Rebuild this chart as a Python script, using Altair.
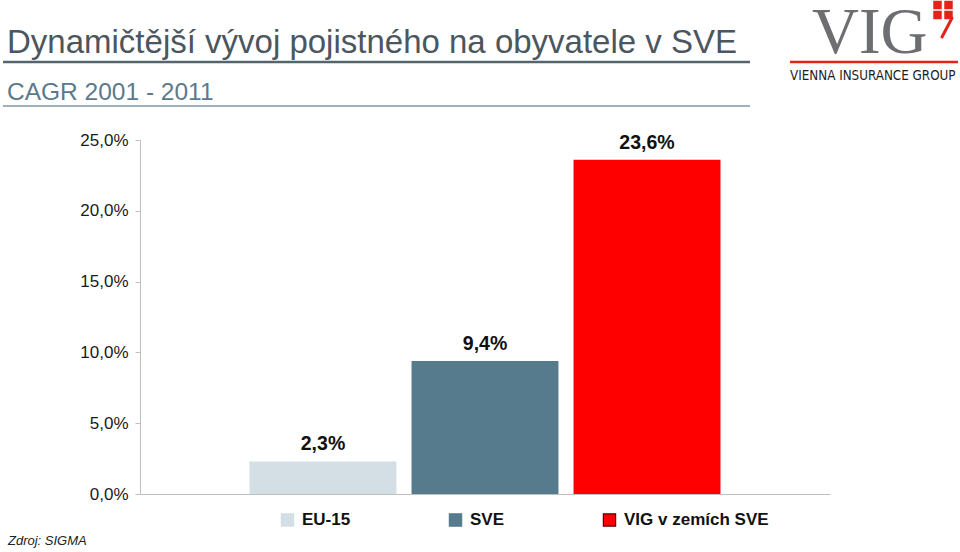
import altair as alt
import pandas as pd

categories = ["EU-15", "SVE", "VIG v zemích SVE"]
values = [0.023, 0.094, 0.236]
colors = ["#D3DEE5", "#567B8C", "#FF0000"]
strokes = ["#D3DEE5", "#567B8C", "#5A0000"]
y_ticks = [0, 0.05, 0.1, 0.15, 0.2, 0.25]

title = "Dynamičtější vývoj pojistného na obyvatele v SVE"
subtitle = "CAGR 2001 - 2011"
source = "Zdroj: SIGMA"

df = pd.DataFrame({"cat": categories, "v": values})
one = pd.DataFrame({"a": [0]})

W, H = 690, 354
FONT = "Liberation Sans"

xscale = alt.Scale(domain=categories, paddingInner=0.093, paddingOuter=0.676)
yscale = alt.Scale(domain=[0, 0.25], nice=False, zero=True)
cscale = alt.Scale(domain=categories, range=colors)
sscale = alt.Scale(domain=categories, range=strokes)

legend = alt.Legend(
    title=None, orient="none", legendX=139, legendY=371, direction="horizontal",
    symbolType="square", symbolSize=150, symbolStrokeWidth=1.2, symbolOpacity=1,
    labelFont=FONT, labelFontSize=17, labelFontWeight="bold", labelColor="#111111",
    columnPadding=95, labelOffset=6, labelLimit=300,
)

base = alt.Chart(df)

bars = base.mark_bar(strokeWidth=0).encode(
    x=alt.X("cat:N", scale=xscale, sort=categories,
            axis=alt.Axis(title=None, labels=False, ticks=False, domainColor="#BFBFBF", domainWidth=1)),
    y=alt.Y("v:Q", scale=yscale,
            axis=alt.Axis(title=None, values=y_ticks, grid=False,
                          labelExpr="replace(format(datum.value, '.1%'), '.', ',')",
                          labelFont=FONT, labelFontSize=17, labelColor="#1A1A1A",
                          labelPadding=7, tickSize=5, tickColor="#BFBFBF",
                          domainColor="#BFBFBF")),
    color=alt.Color("cat:N", scale=cscale, sort=categories, legend=legend),
    stroke=alt.Stroke("cat:N", scale=sscale, sort=categories, legend=legend),
)

labels = base.mark_text(dy=-7, font=FONT, fontSize=19.5, fontWeight="bold", color="#111111",
                        baseline="bottom").encode(
    x=alt.X("cat:N", scale=xscale, sort=categories),
    y=alt.Y("v:Q", scale=yscale),
    text=alt.Text("lbl:N"),
).transform_calculate(lbl="replace(format(datum.v, '.1%'), '.', ',')")

dec = alt.Chart(one)
title_t = dec.mark_text(text=title, font=FONT, fontSize=33, color="#4B565E", align="left",
                        baseline="alphabetic").encode(x=alt.value(-133), y=alt.value(-87))
title_l = dec.mark_rule(color="#56646D", strokeWidth=2.5).encode(
    x=alt.value(-137), x2=alt.value(610), y=alt.value(-78))
sub_t = dec.mark_text(text=subtitle, font=FONT, fontSize=24.5, color="#5A7A8C", align="left",
                      baseline="alphabetic").encode(x=alt.value(-133), y=alt.value(-40))
sub_l = dec.mark_rule(color="#7F97A6", strokeWidth=1.5).encode(
    x=alt.value(-137), x2=alt.value(610), y=alt.value(-34))
src_t = dec.mark_text(text=source, font=FONT, fontSize=13, fontStyle="italic", color="#222222",
                      align="left", baseline="alphabetic").encode(x=alt.value(-132), y=alt.value(405))

vig_t = dec.mark_text(text="VIG", font="Liberation Serif", fontSize=65, color="#6D6E71",
                      align="left", baseline="alphabetic").encode(x=alt.value(672), y=alt.value(-87))
vig_l = dec.mark_rule(color="#E2231A", strokeWidth=2.5).encode(
    x=alt.value(650), x2=alt.value(818), y=alt.value(-78))
vig_g = dec.mark_text(text="VIENNA INSURANCE GROUP", font="DejaVu Sans Condensed", fontSize=13.3,
                      color="#1E1E1E", align="left", baseline="alphabetic").encode(
    x=alt.value(650), y=alt.value(-60))
sq = [
    dec.mark_square(size=72, color="#E2231A", opacity=1).encode(x=alt.value(px), y=alt.value(py))
    for px, py in [(797.5, -135), (808.5, -135), (797.5, -125), (808.5, -125)]
]
tail = dec.mark_rule(color="#E2231A", strokeWidth=3, strokeCap="round").encode(
    x=alt.value(812), x2=alt.value(802), y=alt.value(-122), y2=alt.value(-103))

chart = alt.layer(bars, labels, title_t, title_l, sub_t, sub_l, src_t, vig_t, vig_l, vig_g, tail, *sq).properties(
    width=W, height=H,
    autosize=alt.AutoSizeParams(type="none"),
    padding={"left": 140, "top": 140, "right": 130, "bottom": 58},
).configure_view(strokeWidth=0)

chart.save("out.html", embed_options={"renderer": "svg", "actions": False})
